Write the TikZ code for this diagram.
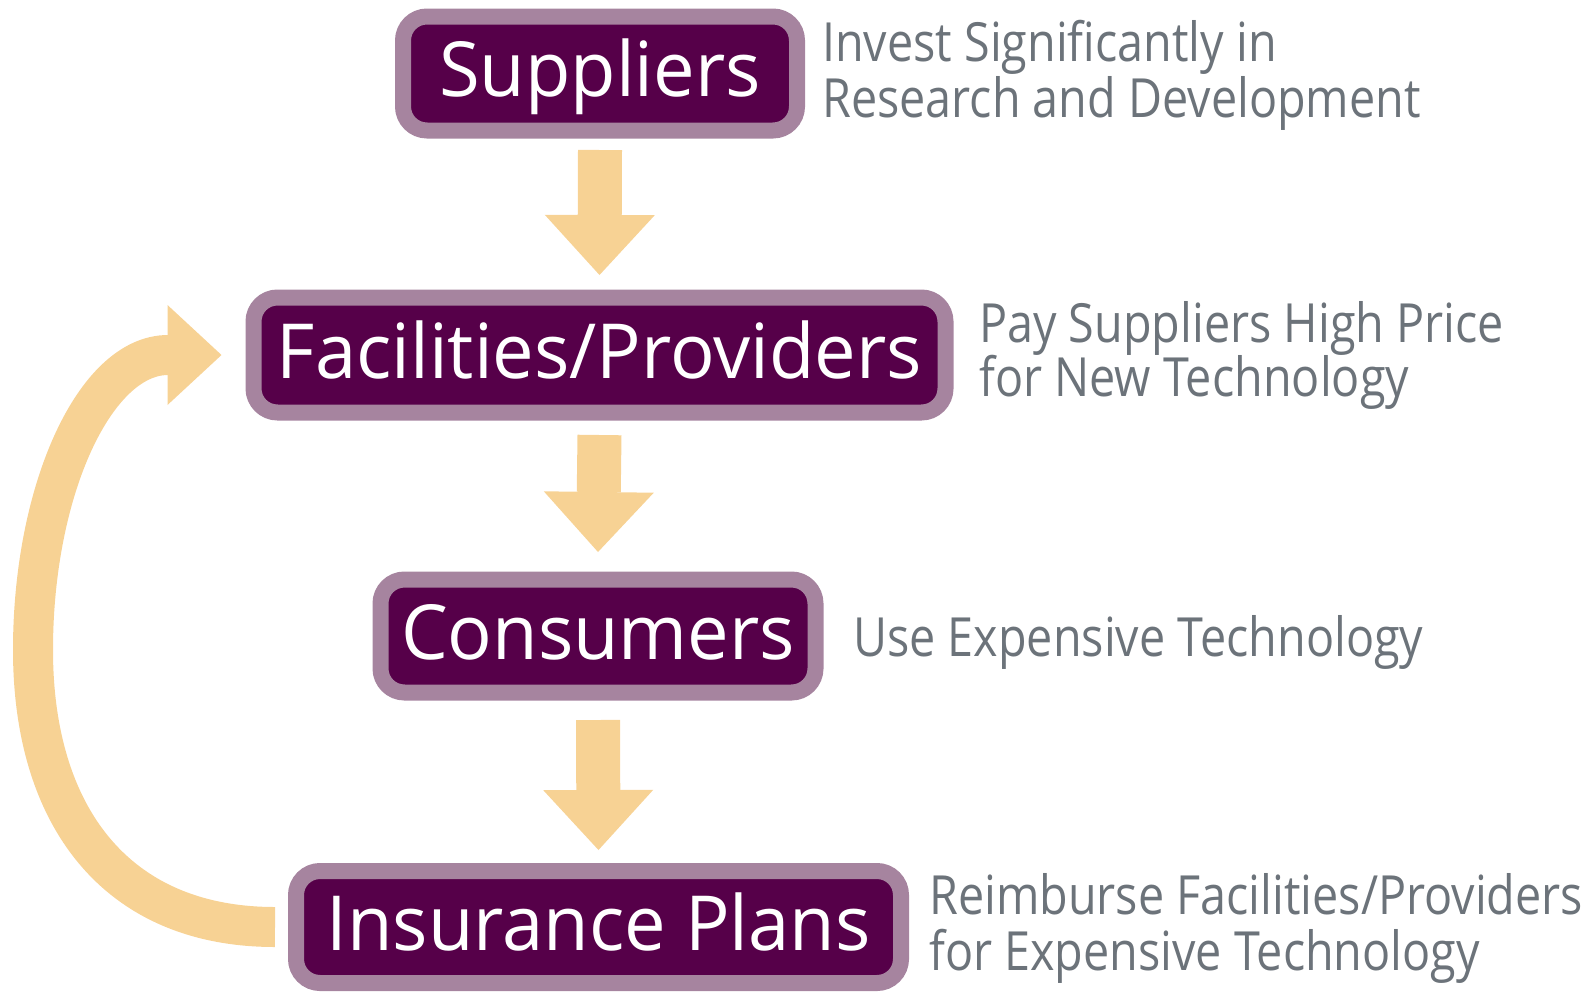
\documentclass[tikz,border=0pt]{standalone}
\usepackage{fontspec}
\setmainfont{Open Sans}
\newfontfamily\boxfont[FakeStretch=0.975]{Open Sans}
\newfontfamily\notefont[FakeStretch=0.865]{Open Sans}
\usetikzlibrary{arrows.meta}
\definecolor{plum}{HTML}{560049}
\definecolor{mauve}{HTML}{A6849F}
\definecolor{peach}{HTML}{F7D294}
\definecolor{slate}{HTML}{6C737A}
\tikzset{
 box/.style={draw=mauve, fill=plum, line width=16pt, rounded corners=24pt, text=white,
   font=\boxfont\fontsize{76}{80}\selectfont, inner sep=0pt, text height=46pt, text depth=0pt},
 note/.style={anchor=base west, inner sep=0pt, text=slate, font=\notefont\fontsize{54}{56}\selectfont},
 flow/.style={draw=peach, line width=44pt, -{Triangle[width=110pt,length=60pt,line width=0pt]}},
 backflow/.style={draw=peach, line width=40pt, -{Triangle[width=100pt,length=54pt,line width=0pt]}},
}
\begin{document}
\begin{tikzpicture}[x=1pt,y=-1pt]
\useasboundingbox (0,0) rectangle (1593,991);
\node[box, minimum width=394pt, minimum height=114pt] (sup) at (600,73.5) {Suppliers};
\node[box, minimum width=692pt, minimum height=115pt] (fac) at (599.5,355) {Facilities/Providers};
\node[box, minimum width=435pt, minimum height=113pt] (con) at (598,636) {Consumers};
\node[box, minimum width=605pt, minimum height=112pt] (ins) at (598.5,927) {Insurance Plans};

\draw[flow] ([yshift=-11.5pt]sup.south) -- ([yshift=14.5pt]fac.north);
\draw[flow] ([yshift=-14.5pt]fac.south) -- ([yshift=19.5pt]con.north);
\draw[flow] ([yshift=-19.5pt]con.south) -- ([yshift=13pt]ins.north);

\coordinate (lbot) at (33,650);
\coordinate (ltop) at (168,355);
\draw[backflow] ([xshift=-13pt]ins.west) .. controls (115,927) and (33,815) .. (lbot)
  .. controls (33,490) and (95,355) .. (ltop) -- ([xshift=-24pt]fac.west);

\node[note] (t1a) at (822,61) {Invest Significantly in};
\node[note] (t1b) at (822,117) {Research and Development};
\node[note] (t2a) at (979,342) {Pay Suppliers High Price};
\node[note] (t2b) at (979,396) {for New Technology};
\node[note] (t3) at (853,656) {Use Expensive Technology};
\node[note] (t4a) at (929,914) {Reimburse Facilities/Providers};
\node[note] (t4b) at (929,970) {for Expensive Technology};
\end{tikzpicture}
\end{document}
